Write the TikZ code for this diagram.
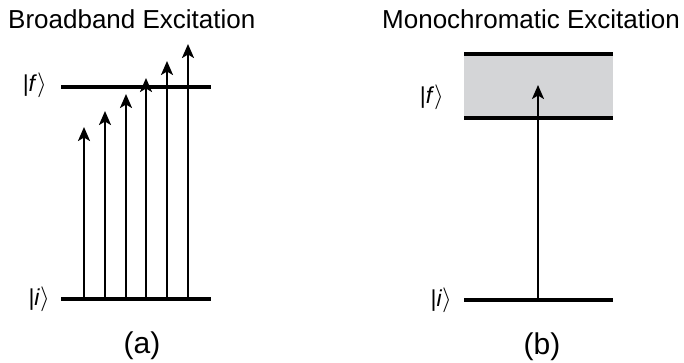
\documentclass[tikz,border=0pt]{standalone}
\usepackage{fontspec}
\setmainfont{Liberation Sans}
\usetikzlibrary{arrows.meta}
\definecolor{bandgray}{RGB}{212,213,215}
\begin{document}
\begin{tikzpicture}[x=1pt,y=-1pt,
  level/.style={line width=3.3pt},
  excite/.style={line width=2.3pt,-{Stealth[length=14pt,width=12pt,inset=3.5pt]}},
  title/.style={font=\fontsize{26}{28}\selectfont, anchor=base west, inner sep=0pt},
  statelbl/.style={font=\fontsize{23}{26}\selectfont, inner sep=0pt, anchor=east},
  panel/.style={font=\fontsize{30}{32}\selectfont, inner sep=0pt}]
\useasboundingbox (0,0) rectangle (684,362);

% titles
\node[title] (ta) at (8,28) {Broadband Excitation};
\node[title] (tb) at (382,28) {Monochromatic Excitation};

% panel (a)
\coordinate (fL) at (61,87);
\coordinate (fR) at (211,87);
\coordinate (iL) at (61,299);
\coordinate (iR) at (211,299);
\draw[level] (fL) -- (fR);
\draw[level] (iL) -- (iR);
\node[statelbl] (fa) at (47,85) {|\textit{f}$\rangle$};
\node[statelbl] (ia) at (50,299) {|\textit{i}$\rangle$};
\foreach \n/\x/\t in {1/84/127, 2/105/111, 3/126/94, 4/146/78, 5/167/61, 6/188/44}{
  \coordinate (s\n) at (\x,299);
  \coordinate (e\n) at (\x,\t);
  \draw[excite] (s\n) -- (e\n);
}
\node[panel] (pa) at (142,346) {(a)};

% panel (b)
\coordinate (btL) at (464,54);
\coordinate (btR) at (613,54);
\coordinate (bbL) at (464,118);
\coordinate (bbR) at (613,118);
\fill[bandgray] (btL) rectangle (bbR);
\draw[level] (btL) -- (btR);
\draw[level] (bbL) -- (bbR);
\coordinate (ibL) at (464,300);
\coordinate (ibR) at (613,300);
\draw[level] (ibL) -- (ibR);
\node[statelbl] (fb) at (444,97) {|\textit{f}$\rangle$};
\node[statelbl] (ib) at (452,300) {|\textit{i}$\rangle$};
\coordinate (sb) at (538,300);
\coordinate (eb) at (538,85);
\draw[excite] (sb) -- (eb);
\node[panel] (pb) at (542,347) {(b)};
\end{tikzpicture}
\end{document}
